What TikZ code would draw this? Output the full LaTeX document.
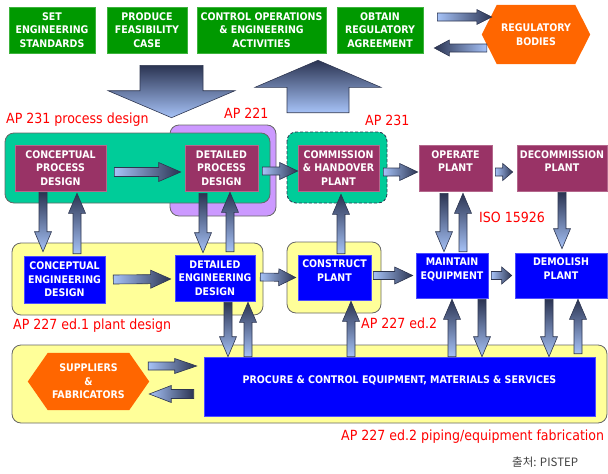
\documentclass[tikz,border=0pt]{standalone}
\usepackage{fontspec}
\setmainfont{DejaVu Sans Condensed}
\newfontfamily\cjkfont{Noto Sans CJK KR}
\usetikzlibrary{calc,backgrounds}
\definecolor{topgreen}{HTML}{009900}
\definecolor{topgreenl}{HTML}{3DB33D}
\definecolor{maroonbox}{HTML}{993366}
\definecolor{maroonl}{HTML}{B4678C}
\definecolor{bluebox}{HTML}{0000FF}
\definecolor{bluel}{HTML}{4D4DFF}
\definecolor{tealreg}{HTML}{00CC99}
\definecolor{purplereg}{HTML}{CC99FF}
\definecolor{yellowreg}{HTML}{FFFF99}
\definecolor{regline}{HTML}{666666}
\definecolor{hexorange}{HTML}{FF6600}
\definecolor{alight}{HTML}{A6C2F7}
\definecolor{adark}{HTML}{2B3452}
\definecolor{aline}{HTML}{2E3650}
\definecolor{labred}{HTML}{FF0000}
\definecolor{srcgray}{HTML}{404040}
\newcommand\boxfont{\fontsize{10.5}{13.5}\selectfont\bfseries}
\newcommand\labfont{\fontsize{14}{16}\selectfont}
% block arrow: [style]{from}{to}{shaft half width}{head half width}{head length}
\newcommand\blk[6][]{%
  \coordinate (bA) at (#2);
  \coordinate (bB) at (#3);
  \coordinate (bH) at ($(bB)!#6!(bA)$);
  \draw[blkarrow,#1] ($(bA)!#4!-90:(bB)$) -- ($(bH)!#4!-90:(bB)$) -- ($(bH)!#5!-90:(bB)$) -- (bB) -- ($(bH)!#5!90:(bB)$) -- ($(bH)!#4!90:(bB)$) -- ($(bA)!#4!90:(bB)$) -- cycle;}
\begin{document}
\begin{tikzpicture}[x=1pt,y=-1pt,
  tbox/.style={rectangle, inner sep=0pt, align=center, text=white, font=\boxfont, line width=0.6pt},
  greenbox/.style={tbox, fill=topgreen, draw=topgreenl},
  maroon/.style={tbox, fill=maroonbox, draw=maroonl},
  blue/.style={tbox, fill=bluebox, draw=bluel},
  hexnode/.style={rectangle, inner sep=0pt, align=center, text=white, font=\boxfont},
  region/.style={rounded corners=9pt, draw=regline, line width=0.8pt},
  lab/.style={anchor=west, inner sep=0pt, text=labred, font=\labfont},
  src/.style={anchor=west, inner sep=0pt, text=srcgray, font=\fontsize{11.5}{13}\selectfont},
  blkarrow/.style={draw=aline, line width=0.6pt, line join=miter},
  blkV/.style={top color=adark, bottom color=alight},
  blkR/.style={left color=alight, right color=adark},
  blkL/.style={left color=adark, right color=alight}]
\useasboundingbox (0,0) rectangle (608,474);

% top row
\node[greenbox, minimum width=86, minimum height=46] (seng) at (52,30) {SET\\ENGINEERING\\STANDARDS};
\node[greenbox, minimum width=80, minimum height=46] (pfc) at (147,30) {PRODUCE\\FEASIBILITY\\CASE};
\node[greenbox, minimum width=129, minimum height=46] (coea) at (261.5,30) {CONTROL OPERATIONS\\\& ENGINEERING\\ACTIVITIES};
\node[greenbox, minimum width=86, minimum height=46] (ora) at (380,30) {OBTAIN\\REGULATORY\\AGREEMENT};
\node[hexnode, minimum width=108, minimum height=59] (reg) at (536,34.5) {REGULATORY\\BODIES};

% process row
\node[maroon, minimum width=91, minimum height=46] (cpd) at (60.5,168) {CONCEPTUAL\\PROCESS\\DESIGN};
\node[maroon, minimum width=73, minimum height=46] (dpd) at (221.5,168) {DETAILED\\PROCESS\\DESIGN};
\node[maroon, minimum width=81, minimum height=46] (chp) at (338.5,168) {COMMISSION\\\& HANDOVER\\PLANT};
\node[maroon, minimum width=73, minimum height=46] (op) at (455.5,168) {OPERATE\\PLANT\\\mbox{}};
\node[maroon, minimum width=90, minimum height=46] (dec) at (562,168) {DECOMMISSION\\PLANT\\\mbox{}};

% engineering row
\node[blue, minimum width=81, minimum height=47] (ced) at (64.5,279.5) {CONCEPTUAL\\ENGINEERING\\DESIGN};
\node[blue, minimum width=80, minimum height=46] (ded) at (215,278) {DETAILED\\ENGINEERING\\DESIGN};
\node[blue, minimum width=73, minimum height=45] (cp) at (334.5,277.5) {CONSTRUCT\\PLANT\\\mbox{}};
\node[blue, minimum width=72, minimum height=45] (me) at (452,275.5) {MAINTAIN\\EQUIPMENT\\\mbox{}};
\node[blue, minimum width=92, minimum height=45] (dp) at (561,275.5) {DEMOLISH\\PLANT\\\mbox{}};

% procurement row
\node[blue, minimum width=391, minimum height=59] (proc) at (399.5,386.5) {PROCURE \& CONTROL EQUIPMENT, MATERIALS \& SERVICES\\\mbox{}};
\node[hexnode, minimum width=121, minimum height=57] (sup) at (88.5,381.5) {SUPPLIERS\\\&\\FABRICATORS};

% regions and hexagons (behind)
\begin{pgfonlayer}{background}
\filldraw[region, fill=purplereg] (170,125) rectangle (276,216);
\filldraw[region, fill=tealreg] (5,133) rectangle (270,203);
\filldraw[region, fill=tealreg, draw=aline, dash pattern=on 3pt off 2pt] (287,132) rectangle (387,203);
\filldraw[region, fill=yellowreg] (12,243) rectangle (263,315);
\filldraw[region, fill=yellowreg] (287,242) rectangle (381,313);
\filldraw[region, fill=yellowreg] (12,345) rectangle (607,423);
\fill[hexorange] ([xshift=15pt]reg.north west) -- ([xshift=-15pt]reg.north east) -- (reg.east) -- ([xshift=-15pt]reg.south east) -- ([xshift=15pt]reg.south west) -- (reg.west) -- cycle;
\fill[hexorange] ([xshift=20pt]sup.north west) -- ([xshift=-20pt]sup.north east) -- (sup.east) -- ([xshift=-20pt]sup.south east) -- ([xshift=20pt]sup.south west) -- (sup.west) -- cycle;
\end{pgfonlayer}

% labels
\node[lab] (l231p) at (6,120) {AP 231 process design};
\node[lab] (l221) at (224,113) {AP 221};
\node[lab] (l231) at (365,120) {AP 231};
\node[lab] (liso) at (479,217) {ISO 15926};
\node[lab] (l227a) at (13,326) {AP 227 ed.1 plant design};
\node[lab] (l227b) at (361,323) {AP 227 ed.2};
\node[lab] (l227c) at (341,437) {AP 227 ed.2 piping/equipment fabrication};
\node[src] (srcn) at (512,462) {\cjkfont 출처: PISTEP};

% regulatory arrows
\blk[blkR]{$(ora.east |- 0,17)+(14,0)$}{$(reg.west |- 0,17)+(10,0)$}{4pt}{7.5pt}{15pt}
\blk[blkL]{$(reg.west |- 0,48)+(5,0)$}{$(ora.east |- 0,48)+(11,0)$}{4pt}{8pt}{15pt}
% big arrows
\blk[blkV]{$(171.5,0 |- pfc.south)+(0,12)$}{$(171.5,0 |- cpd.north)+(0,-27)$}{31.5pt}{63.5pt}{27pt}
\blk[blkV]{$(318,0 |- chp.north)+(0,-32)$}{$(318,0 |- coea.south)+(0,7)$}{31pt}{63pt}{27pt}
% horizontal flow
\blk[blkR]{$(cpd.east)+(8,4)$}{$(dpd.west)+(-4,4)$}{4.5pt}{9.5pt}{22pt}
\blk[blkR]{$(dpd.east)+(4,3)$}{$(chp.west)+(0,3)$}{4pt}{8.5pt}{18pt}
\blk[blkR]{$(chp.east)+(4,4)$}{$(op.west)+(-1,4)$}{4pt}{8.5pt}{18pt}
\blk[blkR]{$(op.east)+(3,4)$}{$(dec.west)+(-4,4)$}{4pt}{8.5pt}{10pt}
\blk[blkR]{$(ced.east)+(8,0)$}{$(ded.west)+(-4,1)$}{4.5pt}{9pt}{20pt}
\blk[blkR]{$(ded.east)+(5,-1)$}{$(cp.west)+(-2,0)$}{4pt}{8.5pt}{17pt}
\blk[blkR]{$(cp.east)+(2,-2)$}{$(me.west)+(-3,0)$}{4pt}{8.5pt}{18pt}
\blk[blkR]{$(me.east)+(3,0)$}{$(dp.west)+(-3,0)$}{4pt}{8.5pt}{10pt}
% vertical links
\blk[blkV]{$(43,0 |- cpd.south)+(0,1)$}{$(43,0 |- ced.north)+(0,-4)$}{4pt}{8.5pt}{20pt}
\blk[blkV]{$(77,0 |- ced.north)+(0,-2)$}{$(77,0 |- cpd.south)+(0,2)$}{4pt}{8.5pt}{20pt}
\blk[blkV]{$(203,0 |- dpd.south)+(0,2)$}{$(203,0 |- ded.north)+(0,-2)$}{4pt}{8.5pt}{20pt}
\blk[blkV]{$(230,0 |- ded.north)+(0,-3)$}{$(230,0 |- dpd.south)+(0,1)$}{4pt}{8.5pt}{20pt}
\blk[blkV]{$(341,0 |- cp.north)+(0,-1)$}{$(341,0 |- chp.south)+(0,3)$}{4pt}{8.5pt}{20pt}
\blk[blkV]{$(444,0 |- op.south)+(0,2)$}{$(444,0 |- me.north)+(0,-1)$}{4pt}{8.5pt}{20pt}
\blk[blkV]{$(463,0 |- me.north)+(0,-1)$}{$(463,0 |- op.south)+(0,2)$}{4pt}{8.5pt}{20pt}
\blk[blkV]{$(562,0 |- dec.south)+(0,1)$}{$(562,0 |- dp.north)+(0,-4)$}{4pt}{8.5pt}{20pt}
% links to procurement
\blk[blkV]{$(228,0 |- ded.south)+(0,1)$}{$(228,0 |- proc.north)$}{4pt}{8.5pt}{20pt}
\blk[blkV]{$(248,0 |- proc.north)$}{$(248,0 |- ded.south)+(0,1)$}{4pt}{8.5pt}{20pt}
\blk[blkV]{$(351,0 |- proc.north)$}{$(351,0 |- cp.south)+(0,1)$}{4pt}{8.5pt}{20pt}
\blk[blkV]{$(452,0 |- proc.north)$}{$(452,0 |- me.south)+(0,1)$}{4pt}{8.5pt}{20pt}
\blk[blkV]{$(482,0 |- me.south)+(0,1)$}{$(482,0 |- proc.north)$}{4pt}{8.5pt}{20pt}
\blk[blkV]{$(549,0 |- dp.south)+(0,1)$}{$(549,0 |- proc.north)$}{4pt}{8.5pt}{20pt}
\blk[blkV]{$(578,0 |- proc.north)+(0,-3)$}{$(578,0 |- dp.south)+(0,1)$}{4pt}{8.5pt}{20pt}
% suppliers
\blk[blkR]{$(sup.east |- 0,366)+(-1,0)$}{$(proc.west |- 0,366)+(-7,0)$}{4pt}{7.5pt}{22pt}
\blk[blkR]{$(proc.west |- 0,394)+(-10,0)$}{$(sup.east |- 0,394)$}{4.5pt}{8.5pt}{22pt}
\end{tikzpicture}
\end{document}
